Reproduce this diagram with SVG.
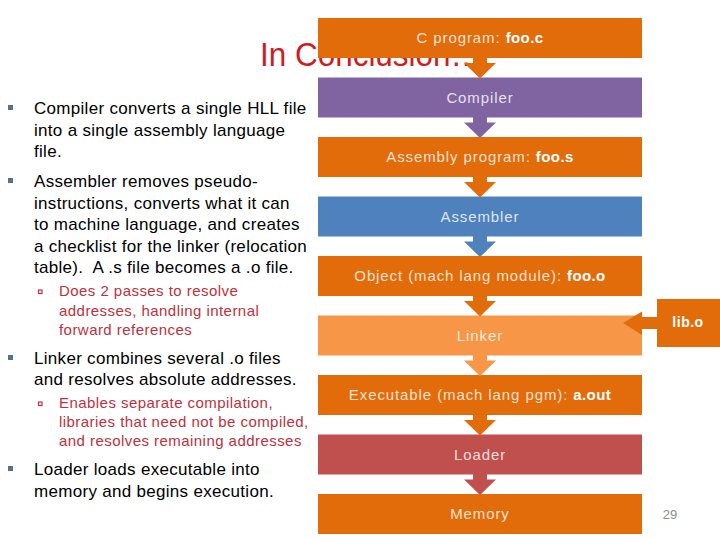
<svg xmlns="http://www.w3.org/2000/svg" width="720" height="540" viewBox="0 0 720 540">
<style>
.bg{fill:#ffffff}
.title{font-family:"Liberation Sans",Arial,sans-serif;font-size:33px;fill:#D01C24}
.main{font-family:"Liberation Sans",Arial,sans-serif;font-size:17px;fill:#000000;letter-spacing:0.3px}
.sub{font-family:"Liberation Sans",Arial,sans-serif;font-size:15px;fill:#C0303D;letter-spacing:0.45px}
.bul{fill:#54708E}
.sbul{fill:none;stroke:#C0303D;stroke-width:1.2}
.lbl{font-family:"Liberation Sans",Arial,sans-serif;font-size:15px;fill:#ffffff;fill-opacity:0.82;letter-spacing:0.9px;text-anchor:middle}
.lbl .b{font-weight:bold;fill-opacity:1;letter-spacing:0.4px}
.libt{font-family:"Liberation Sans",Arial,sans-serif;font-size:14px;font-weight:bold;fill:#ffffff;text-anchor:middle;letter-spacing:0.5px}
.num{font-family:"Liberation Sans",Arial,sans-serif;font-size:13px;fill:#8C8C8C;text-anchor:middle}
.or{fill:#E36C0A}.pu{fill:#8064A2}.bl{fill:#4F81BD}.lo{fill:#F79646}.rd{fill:#C0504D}
</style>
<rect class="bg" x="0" y="0" width="720" height="540"/>
<text class="title" x="260" y="66" textLength="222" lengthAdjust="spacingAndGlyphs">In Conclusion…</text>

<g id="bullets">
<rect class="bul" x="8" y="105" width="5" height="5"/>
<text class="main" x="34" y="114">Compiler converts a single HLL file</text>
<text class="main" x="34" y="135.5">into a single assembly language</text>
<text class="main" x="34" y="157">file.</text>
<rect class="bul" x="8" y="178" width="5" height="5"/>
<text class="main" x="34" y="187">Assembler removes pseudo-</text>
<text class="main" x="34" y="208.5">instructions, converts what it can</text>
<text class="main" x="34" y="230">to machine language, and creates</text>
<text class="main" x="34" y="251.5">a checklist for the linker (relocation</text>
<text class="main" x="34" y="273">table).&#160; A .s file becomes a .o file.</text>
<rect class="sbul" x="38.5" y="290" width="3.5" height="3.5"/>
<text class="sub" x="59" y="296">Does 2 passes to resolve</text>
<text class="sub" x="59" y="315.5">addresses, handling internal</text>
<text class="sub" x="59" y="335">forward references</text>
<rect class="bul" x="8" y="355" width="5" height="5"/>
<text class="main" x="34" y="364">Linker combines several .o files</text>
<text class="main" x="34" y="385">and resolves absolute addresses.</text>
<rect class="sbul" x="38.5" y="402" width="3.5" height="3.5"/>
<text class="sub" x="59" y="408">Enables separate compilation,</text>
<text class="sub" x="59" y="427">libraries that need not be compiled,</text>
<text class="sub" x="59" y="446">and resolves remaining addresses</text>
<rect class="bul" x="8" y="466" width="5" height="5"/>
<text class="main" x="34" y="475">Loader loads executable into</text>
<text class="main" x="34" y="497">memory and begins execution.</text>
</g>

<g id="n-cprog"><rect class="or" x="318" y="18" width="324" height="40"/><text class="lbl" x="480" y="43">C program: <tspan class="b">foo.c</tspan></text></g>
<g id="n-compiler"><rect class="pu" x="318" y="77.5" width="324" height="40"/><text class="lbl" x="480" y="102.5">Compiler</text></g>
<g id="n-asmprog"><rect class="or" x="318" y="137" width="324" height="40"/><text class="lbl" x="480" y="162">Assembly program: <tspan class="b">foo.s</tspan></text></g>
<g id="n-assembler"><rect class="bl" x="318" y="196.5" width="324" height="40"/><text class="lbl" x="480" y="221.5">Assembler</text></g>
<g id="n-object"><rect class="or" x="318" y="256" width="324" height="40"/><text class="lbl" x="480" y="281">Object (mach lang module): <tspan class="b">foo.o</tspan></text></g>
<g id="n-linker"><rect class="lo" x="318" y="315.5" width="324" height="40"/><text class="lbl" x="480" y="340.5">Linker</text></g>
<g id="n-exec"><rect class="or" x="318" y="375" width="324" height="40"/><text class="lbl" x="480" y="400">Executable (mach lang pgm): <tspan class="b">a.out</tspan></text></g>
<g id="n-loader"><rect class="rd" x="318" y="434.5" width="324" height="40"/><text class="lbl" x="480" y="459.5">Loader</text></g>
<g id="n-memory"><rect class="or" x="318" y="494" width="324" height="40"/><text class="lbl" x="480" y="519">Memory</text></g>
<g id="n-libo"><rect class="or" x="657" y="299" width="70" height="48"/><text class="libt" x="688" y="327">lib.o</text></g>

<g id="connectors">
<path class="or" d="M473 57 H487 V63 H496 L480 78.5 L464 63 H473 Z"/>
<path class="pu" d="M473 116.5 H487 V122.5 H496 L480 138 L464 122.5 H473 Z"/>
<path class="or" d="M473 176 H487 V182 H496 L480 197.5 L464 182 H473 Z"/>
<path class="bl" d="M473 235.5 H487 V241.5 H496 L480 257 L464 241.5 H473 Z"/>
<path class="or" d="M473 295 H487 V301 H496 L480 316.5 L464 301 H473 Z"/>
<path class="lo" d="M473 354.5 H487 V360.5 H496 L480 376 L464 360.5 H473 Z"/>
<path class="or" d="M473 414 H487 V420 H496 L480 435.5 L464 420 H473 Z"/>
<path class="rd" d="M473 473.5 H487 V479.5 H496 L480 495 L464 479.5 H473 Z"/>
<path class="or" d="M658 317 V329 H642 V335 L623 323 L642 311.5 V317 Z"/>
</g>
<text class="num" x="670" y="519">29</text>
</svg>
